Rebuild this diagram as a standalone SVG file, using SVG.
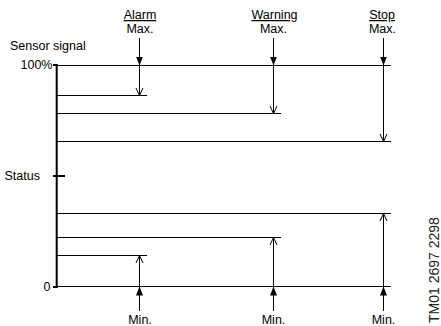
<svg xmlns="http://www.w3.org/2000/svg" width="441" height="326" viewBox="0 0 441 326">
<defs>
<style>
text{font-family:"Liberation Sans",Arial,sans-serif;font-size:12.5px;fill:#000}
.mid{text-anchor:middle}
.end{text-anchor:end}
.ul{text-decoration:underline}
.h{stroke:#000;stroke-width:1;fill:none}
.arr{stroke:#000;stroke-width:1;fill:none}
.solid{marker-end:url(#fill)}
.open{marker-end:url(#vee)}
</style>
<marker id="fill" markerUnits="userSpaceOnUse" markerWidth="9" markerHeight="7" refX="9" refY="3.5" orient="auto" viewBox="0 0 9 7">
<path d="M0,0 L9,3.5 L0,7 z" fill="#000"/>
</marker>
<marker id="vee" markerUnits="userSpaceOnUse" markerWidth="9" markerHeight="9" refX="7.5" refY="4" orient="auto" viewBox="0 0 9 8">
<path d="M0,0.5 L7.5,4 L0,7.5" fill="none" stroke="#000" stroke-width="1"/>
</marker>
</defs>

<g id="axis">
<line x1="56.7" y1="64" x2="56.7" y2="288" stroke="#000" stroke-width="2"/>
<line x1="53" y1="65" x2="57.7" y2="65" stroke="#000" stroke-width="2"/>
<line x1="53" y1="176" x2="65" y2="176" stroke="#000" stroke-width="2"/>
<line x1="53" y1="287" x2="57.7" y2="287" stroke="#000" stroke-width="2"/>
<text x="10" y="49.5">Sensor signal</text>
<text class="end" x="52.5" y="69">100%</text>
<text x="4.5" y="180">Status</text>
<text class="end" x="50.5" y="291">0</text>
</g>

<g id="levels">
<line class="h" x1="57" y1="65.5" x2="391" y2="65.5"/>
<line class="h" x1="57" y1="95.5" x2="147" y2="95.5"/>
<line class="h" x1="57" y1="113.5" x2="281" y2="113.5"/>
<line class="h" x1="57" y1="141.5" x2="391" y2="141.5"/>
<line class="h" x1="57" y1="213.5" x2="391" y2="213.5"/>
<line class="h" x1="57" y1="237.5" x2="281" y2="237.5"/>
<line class="h" x1="57" y1="255.5" x2="147" y2="255.5"/>
<line class="h" x1="57" y1="286.5" x2="391" y2="286.5"/>
</g>

<g id="alarm">
<text class="mid ul" x="140" y="19">Alarm</text>
<text class="mid" x="140" y="33">Max.</text>
<text class="mid" x="140" y="324">Min.</text>
</g>
<g id="warning">
<text class="mid ul" x="274.5" y="19">Warning</text>
<text class="mid" x="273.5" y="33">Max.</text>
<text class="mid" x="273.5" y="324">Min.</text>
</g>
<g id="stop">
<text class="mid ul" x="382" y="19">Stop</text>
<text class="mid" x="382.5" y="33">Max.</text>
<text class="mid" x="383.5" y="324">Min.</text>
</g>

<g id="connectors">
<line class="arr solid" x1="139.5" y1="38" x2="139.5" y2="65.5"/>
<line class="arr open" x1="139.5" y1="65.5" x2="139.5" y2="95.5"/>
<line class="arr solid" x1="273.5" y1="38" x2="273.5" y2="65.5"/>
<line class="arr open" x1="273.5" y1="65.5" x2="273.5" y2="113.5"/>
<line class="arr solid" x1="383.5" y1="38" x2="383.5" y2="65.5"/>
<line class="arr open" x1="383.5" y1="65.5" x2="383.5" y2="141.5"/>
<line class="arr solid" x1="139.5" y1="311" x2="139.5" y2="286.5"/>
<line class="arr open" x1="139.5" y1="286.5" x2="139.5" y2="255.5"/>
<line class="arr solid" x1="273.5" y1="311" x2="273.5" y2="286.5"/>
<line class="arr open" x1="273.5" y1="286.5" x2="273.5" y2="237.5"/>
<line class="arr solid" x1="383.5" y1="311" x2="383.5" y2="286.5"/>
<line class="arr open" x1="383.5" y1="286.5" x2="383.5" y2="213.5"/>
</g>

<text x="0" y="0" transform="translate(438.5,323) rotate(-90)" style="font-size:14px;fill:#222">TM01 2697 2298</text>
</svg>
